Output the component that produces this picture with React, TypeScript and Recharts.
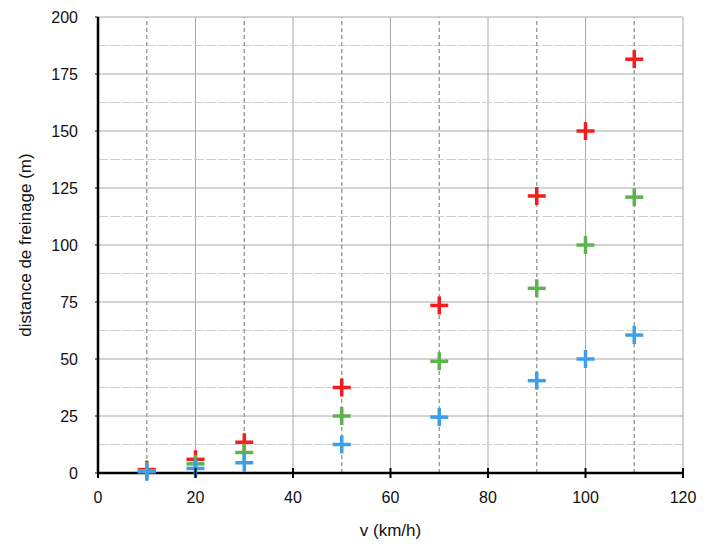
import { ScatterChart, Scatter, XAxis, YAxis, CartesianGrid, ReferenceLine } from 'recharts'

const speeds = [10, 20, 30, 50, 70, 90, 100, 110]
const redValues = [1.5, 6, 13.5, 37.5, 73.5, 121.5, 150, 181.5]
const greenValues = [1, 4, 9, 25, 49, 81, 100, 121]
const blueValues = [0.5, 2, 4.5, 12.5, 24.5, 40.5, 50, 60.5]

const xTicks = [0, 20, 40, 60, 80, 100, 120]
const yTicks = [0, 25, 50, 75, 100, 125, 150, 175, 200]
const xDashed = [10, 30, 50, 70, 90, 110]
const yMinor = [12.5, 37.5, 62.5, 87.5, 112.5, 137.5, 162.5, 187.5]

const font = '"Liberation Sans", Arial, Helvetica, sans-serif'

const toPoints = (values: number[]) => speeds.map((v, i) => ({ v, d: values[i] }))

function makePlus(color: string) {
  return (props: any) => {
    const { cx, cy } = props
    return (
      <g>
        <line x1={cx - 9} y1={cy} x2={cx + 9} y2={cy} stroke={color} strokeWidth={3.5} />
        <line x1={cx} y1={cy - 9} x2={cx} y2={cy + 9} stroke={color} strokeWidth={3.5} />
      </g>
    )
  }
}

function XTick(props: any) {
  const { x, y, payload } = props
  return (
    <g>
      <line x1={x} y1={y - 5} x2={x} y2={y + 5} stroke="#000" strokeWidth={2} />
      <text x={x} y={y + 30} textAnchor="middle" fontSize={16} fontFamily={font} fill="#111">
        {payload.value}
      </text>
    </g>
  )
}

function YTick(props: any) {
  const { x, y, payload } = props
  return (
    <g>
      <line x1={x - 3} y1={y} x2={x} y2={y} stroke="#000" strokeWidth={1} />
      <text x={x - 20} y={y + 6} textAnchor="end" fontSize={16} fontFamily={font} fill="#111">
        {payload.value}
      </text>
    </g>
  )
}

function YLabel(props: any) {
  const { viewBox } = props
  const cx = 31
  const cy = viewBox.y + viewBox.height / 2
  return (
    <text
      x={cx}
      y={cy}
      transform={`rotate(-90, ${cx}, ${cy})`}
      textAnchor="middle"
      fontSize={17}
      fontFamily={font}
      fill="#111"
    >
      distance de freinage (m)
    </text>
  )
}

export default function App() {
  return (
    <div>
      <style>{'body{margin:0;background:#fff}'}</style>
      <ScatterChart width={706} height={550} margin={{ top: 17, right: 23, left: 0, bottom: 0 }}>
        <CartesianGrid stroke="#a8a8a8" strokeWidth={1} />
        {yMinor.map((y) => (
          <ReferenceLine key={'y' + y} y={y} stroke="#d0d0d0" strokeDasharray="10 2" />
        ))}
        {xDashed.map((x) => (
          <ReferenceLine key={'x' + x} x={x} stroke="#a0a0a0" strokeWidth={1.5} strokeDasharray="4 3" />
        ))}
        <XAxis
          type="number"
          dataKey="v"
          domain={[0, 120]}
          ticks={xTicks}
          height={77}
          tickSize={0}
          tickMargin={0}
          tickLine={false}
          axisLine={{ stroke: '#000', strokeWidth: 2.5 }}
          tick={<XTick />}
          label={{ value: 'v (km/h)', position: 'insideBottom', offset: 14, fontSize: 17, fontFamily: font, fill: '#111' }}
        />
        <YAxis
          type="number"
          dataKey="d"
          domain={[0, 200]}
          ticks={yTicks}
          width={98}
          tickSize={0}
          tickMargin={0}
          tickLine={false}
          axisLine={{ stroke: '#000', strokeWidth: 2.5 }}
          tick={<YTick />}
          label={<YLabel />}
        />
        <Scatter data={toPoints(redValues)} shape={makePlus('#f41c1c')} isAnimationActive={false} />
        <Scatter data={toPoints(greenValues)} shape={makePlus('#5fb34f')} isAnimationActive={false} />
        <Scatter data={toPoints(blueValues)} shape={makePlus('#3e9fe6')} isAnimationActive={false} />
      </ScatterChart>
    </div>
  )
}
